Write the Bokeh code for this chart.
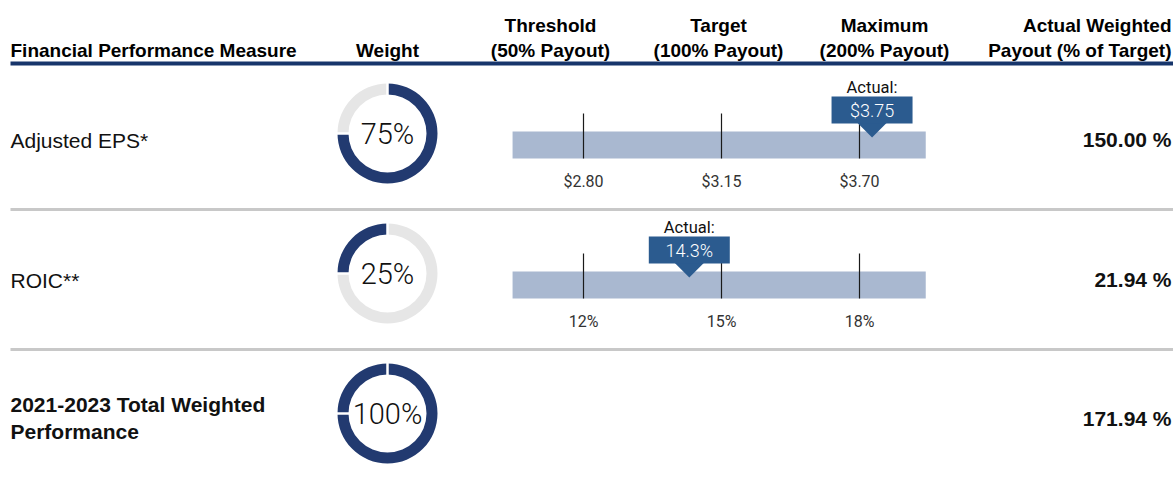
import numpy as np
from bokeh.plotting import figure
from bokeh.models import Range1d
from bokeh.core.properties import value
from bokeh.embed import file_html
from bokeh.resources import INLINE

# ---------------- data ----------------
header_line1 = ["Threshold", "Target", "Maximum"]
header_line2 = ["(50% Payout)", "(100% Payout)", "(200% Payout)"]
header_measure = "Financial Performance Measure"
header_weight = "Weight"
header_payout = ["Actual Weighted", "Payout (% of Target)"]

measures = ["Adjusted EPS*", "ROIC**"]
weights = [75, 25]
threshold = [2.80, 12.0]
target = [3.15, 15.0]
maximum = [3.70, 18.0]
actual = [3.75, 14.3]
threshold_labels = ["$2.80", "12%"]
target_labels = ["$3.15", "15%"]
maximum_labels = ["$3.70", "18%"]
actual_labels = ["$3.75", "14.3%"]
payouts = ["150.00 %", "21.94 %"]

total_label = ["2021-2023 Total Weighted", "Performance"]
total_payout = "171.94 %"

# ---------------- styling / layout ----------------
W, H = 1173, 481
NAVY = "#17356b"
DONUT_DARK = "#223a70"
DONUT_GRAY = "#e6e6e6"
BAR = "#a9b8d0"
CALLOUT = "#2b5b8f"
SANS = value("Liberation Sans")
ROBOTO = value("Roboto")
ROBOTO_L = value("Roboto Light")

LV0, LVS = 583.0, 138.0  # pixel of threshold level, pixels per payout level


def Y(iy):
    return H - iy


p = figure(width=W, height=H, x_range=Range1d(0, W), y_range=Range1d(0, H),
           output_backend="svg", toolbar_location=None, min_border=0,
           x_axis_location=None, y_axis_location=None)
p.grid.visible = False
p.outline_line_color = None
p.background_fill_color = "white"
p.extra_x_ranges = {"lvl": Range1d((0 - LV0) / LVS, (W - LV0) / LVS)}

# ---------------- header ----------------
hdr = dict(text_font=SANS, text_font_style="bold", text_font_size="19px",
           text_color="#000000", text_baseline="middle")
p.text(x=[10], y=[Y(50)], text=[header_measure], text_align="left", **hdr)
p.text(x=[387], y=[Y(50)], text=[header_weight], text_align="center", **hdr)
col_x = [550, 718, 884]
p.text(x=col_x, y=[Y(25)] * 3, text=header_line1, text_align="center", **hdr)
p.text(x=col_x, y=[Y(50)] * 3, text=header_line2, text_align="center", **hdr)
p.text(x=[1171, 1171], y=[Y(25), Y(50)], text=header_payout, text_align="right", **hdr)

p.segment(x0=[10], x1=[W], y0=[Y(63)], y1=[Y(63)], line_color=NAVY,
          line_width=4, line_cap="butt")
p.segment(x0=[10, 10], x1=[W, W], y0=[Y(209), Y(349)], y1=[Y(209), Y(349)],
          line_color="#c8c8c8", line_width=3, line_cap="butt")

# ---------------- donuts ----------------
w = np.array(weights, dtype=float)
cum = np.concatenate([[0.0], np.cumsum(w) / w.sum()])
starts = np.pi / 2 - 2 * np.pi * cum[:-1]
ends = np.pi / 2 - 2 * np.pi * cum[1:]
R_OUT, R_IN = 50, 39
DCX = 387


def donut(cy, highlight, label):
    cols = [DONUT_DARK if (highlight is None or j == highlight) else DONUT_GRAY
            for j in range(len(weights))]
    p.annular_wedge(x=[DCX] * len(weights), y=[cy] * len(weights), inner_radius=R_IN,
                    outer_radius=R_OUT, start_angle=list(starts), end_angle=list(ends),
                    direction="clock", fill_color=cols, line_color=None)
    p.ray(x=[DCX] * len(weights), y=[cy] * len(weights), length=R_OUT + 2,
          angle=list(starts), line_color="white", line_width=2.5)
    p.text(x=[DCX], y=[cy], text=[label], text_font=ROBOTO_L,
           text_font_size="29px", text_color="#111111", text_align="center",
           text_baseline="middle")


def to_level(v, thr, tgt, mx):
    if v <= tgt:
        return (v - thr) / (tgt - thr)
    if v <= mx:
        return 1 + (v - tgt) / (mx - tgt)
    return 2 + (v - mx) / (mx - tgt)


row_txt = dict(text_font=SANS, text_font_size="21px", text_color="#111111",
               text_baseline="middle")

for i, m in enumerate(measures):
    dy = 140 * i
    p.text(x=[10], y=[Y(139.5 + dy)], text=[m], text_align="left", **row_txt)
    p.text(x=[1171], y=[Y(139 + dy)], text=[payouts[i]], text_align="right",
           text_font_style="bold", **row_txt)
    donut(Y(133 + dy), i, f"{weights[i]}%")

    # bullet bar in payout-level units
    p.quad(left=[-0.514], right=[2.48], bottom=[Y(158 + dy)], top=[Y(131 + dy)],
           fill_color=BAR, line_color=None, x_range_name="lvl")
    p.segment(x0=[0, 1, 2], x1=[0, 1, 2], y0=[Y(113 + dy)] * 3, y1=[Y(158 + dy)] * 3,
              line_color="#1a1a1a", line_width=1.2, x_range_name="lvl")
    p.text(x=[0, 1, 2], y=[Y(180.5 + dy)] * 3,
           text=[threshold_labels[i], target_labels[i], maximum_labels[i]],
           text_font=ROBOTO, text_font_size="16px", text_color="#333333",
           text_align="center", text_baseline="middle", x_range_name="lvl")

    lv = to_level(actual[i], threshold[i], target[i], maximum[i])
    hw = 15 / LVS
    p.patch(x=[lv - hw, lv + hw, lv], y=[Y(122 + dy), Y(122 + dy), Y(137 + dy)],
            fill_color=CALLOUT, line_color=None, x_range_name="lvl")
    p.rect(x=[lv], y=[Y(109.5 + dy)], width=81, height=27, width_units="screen",
           height_units="screen", fill_color=CALLOUT, line_color=None, x_range_name="lvl")
    p.text(x=[lv], y=[Y(87 + dy)], text=["Actual:"], text_font=ROBOTO,
           text_font_size="16.5px", text_color="#111111", text_align="center",
           text_baseline="middle", x_range_name="lvl")
    p.text(x=[lv], y=[Y(110 + dy)], text=[actual_labels[i]], text_font=ROBOTO_L,
           text_font_size="18px", text_color="white", text_align="center",
           text_baseline="middle", x_range_name="lvl")

# ---------------- total row ----------------
p.text(x=[10, 10], y=[Y(404), Y(430.5)], text=total_label, text_align="left",
       text_font_style="bold", **row_txt)
p.text(x=[1171], y=[Y(418)], text=[total_payout], text_align="right",
       text_font_style="bold", **row_txt)
donut(Y(413), None, f"{sum(weights)}%")

open("out.html", "w").write(file_html(p, INLINE))
